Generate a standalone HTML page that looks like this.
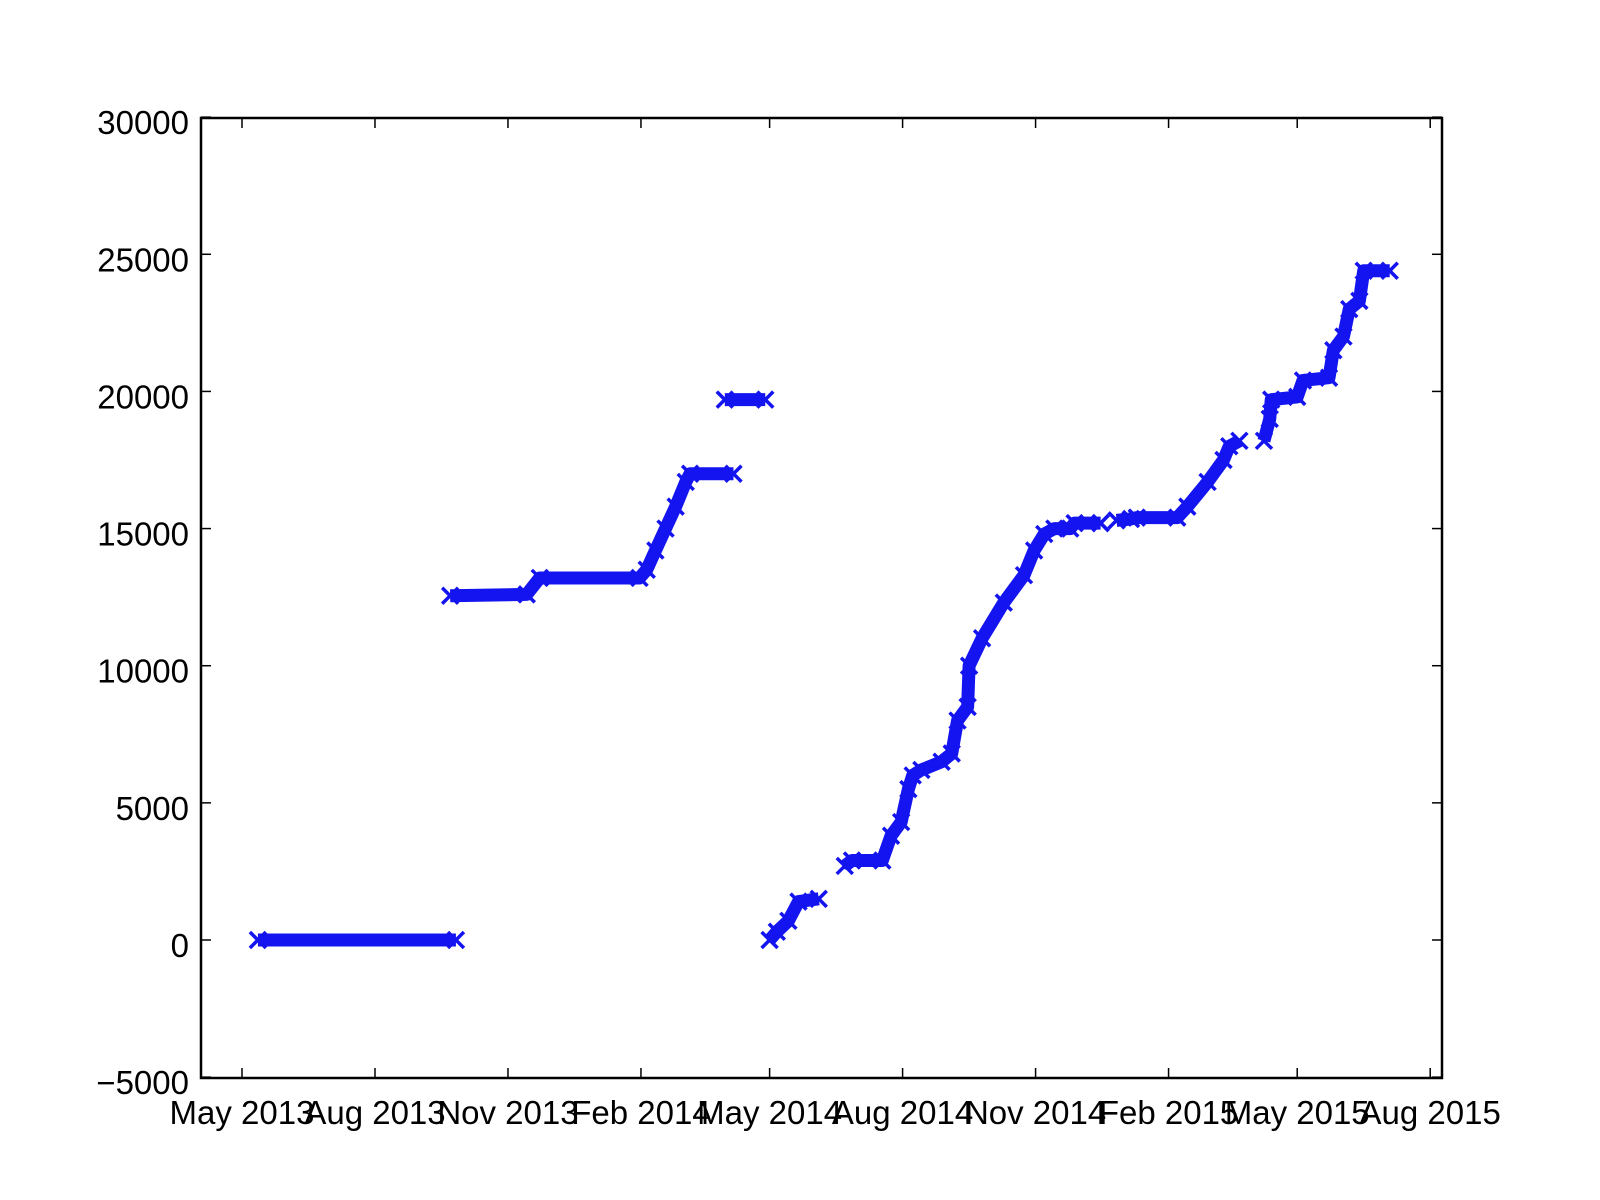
<!DOCTYPE html>
<html><head><meta charset="utf-8"><style>
html,body{margin:0;padding:0;background:#fff;}
svg{display:block;font-family:"Liberation Sans",Arial,sans-serif;}
</style></head><body>
<svg id="chart" width="1600" height="1200" viewBox="0 0 1600 1200" xmlns="http://www.w3.org/2000/svg">
<rect width="1600" height="1200" fill="#fff"/>
<g id="marks"></g>
<g id="axes"></g>
</svg>
<script>
// days since 1 May 2013
const segIds = [1,1, 2,2,2,2,2,2,2,2,2,2,2, 3,3, 4,4,4,4,4,
 5,5,5,5,5,5,5,5,5,5,5,5,5,5,5,5,5,5,5,5,5,5,5,
 6,6,6,6,6,6,6,6,6,
 7,7,7,7,7,7,7,7,7,7,7,7];
const days = [11,148, 144,197,206,275,280,286,293,300,307,310,340, 334,362, 365,370,378,385,399,
 417,422,443,449,456,461,464,470,484,491,495,502,503,512,527,541,548,555,562,573,576,594,594,
 605,615,619,647,654,668,679,683,690,
 707,711,712,730,734,752,755,762,766,773,776,794];
const values = [0,0, 12550,12600,13200,13200,13500,14200,15000,15800,16700,17000,17000, 19700,19700, 0,300,700,1400,1500,
 2700,2900,2900,3800,4300,5500,6000,6200,6500,6800,8000,8500,10000,11000,12300,13300,14200,14800,15000,15000,15200,15200,15200,
 15300,15350,15400,15400,15800,16700,17500,18000,18200,
 18200,19000,19700,19800,20400,20500,21500,22000,23000,23300,24400,24400];
const yTicks = [-5000,0,5000,10000,15000,20000,25000,30000];
const xTickDays = [0,92,184,276,365,457,549,641,730,822];
const xTickLabels = ["May 2013","Aug 2013","Nov 2013","Feb 2014","May 2014","Aug 2014","Nov 2014","Feb 2015","May 2015","Aug 2015"];

const L=201,R=1442,T=118,B=1078;
const X = d => 242 + d*1.4455;
const Y = v => 940 - v*(B-T)/35000;
const NS="http://www.w3.org/2000/svg";
function mk(tag,attrs,parent){const e=document.createElementNS(NS,tag);for(const k in attrs)e.setAttribute(k,attrs[k]);parent.appendChild(e);return e;}
const marks=document.getElementById('marks'), axes=document.getElementById('axes');
const col="#1414f0";
const segs={};
days.forEach((d,i)=>{(segs[segIds[i]]=segs[segIds[i]]||[]).push([X(d),Y(values[i])]);});
for(const s in segs){
  const pl=mk('polyline',{points:segs[s].map(p=>p.join(',')).join(' '),fill:'none',stroke:col,'stroke-width':13,'stroke-linejoin':'round'},marks);
  
  
}
days.forEach((d,i)=>{
  const x=X(d),y=Y(values[i]),h=8;
  const p=mk('path',{d:`M${x-h},${y-h}L${x+h},${y+h}M${x-h},${y+h}L${x+h},${y-h}`,stroke:col,'stroke-width':3.5,fill:'none'},marks);
  
  
});
const fr=mk('rect',{x:L,y:T,width:R-L,height:B-T,fill:'none',stroke:'#000','stroke-width':2.5},axes);


yTicks.forEach(v=>{
  const y=Y(v);
  mk('line',{x1:L,y1:y,x2:L+10,y2:y,stroke:'#000','stroke-width':1.5},axes);
  mk('line',{x1:R,y1:y,x2:R-10,y2:y,stroke:'#000','stroke-width':1.5},axes);
  const t=mk('text',{x:189,y:y+17,'text-anchor':'end','font-size':33,fill:'#000'},axes);
  t.textContent=v<0?'\u2212'+Math.abs(v):String(v);
  
  
});
xTickDays.forEach((d,i)=>{
  const x=X(d);
  mk('line',{x1:x,y1:B,x2:x,y2:B-10,stroke:'#000','stroke-width':1.5},axes);
  mk('line',{x1:x,y1:T,x2:x,y2:T+10,stroke:'#000','stroke-width':1.5},axes);
  const t=mk('text',{x:x,y:1124,'text-anchor':'middle','font-size':33,fill:'#000'},axes);
  t.textContent=xTickLabels[i];
  
  
});
</script>
</body></html>
